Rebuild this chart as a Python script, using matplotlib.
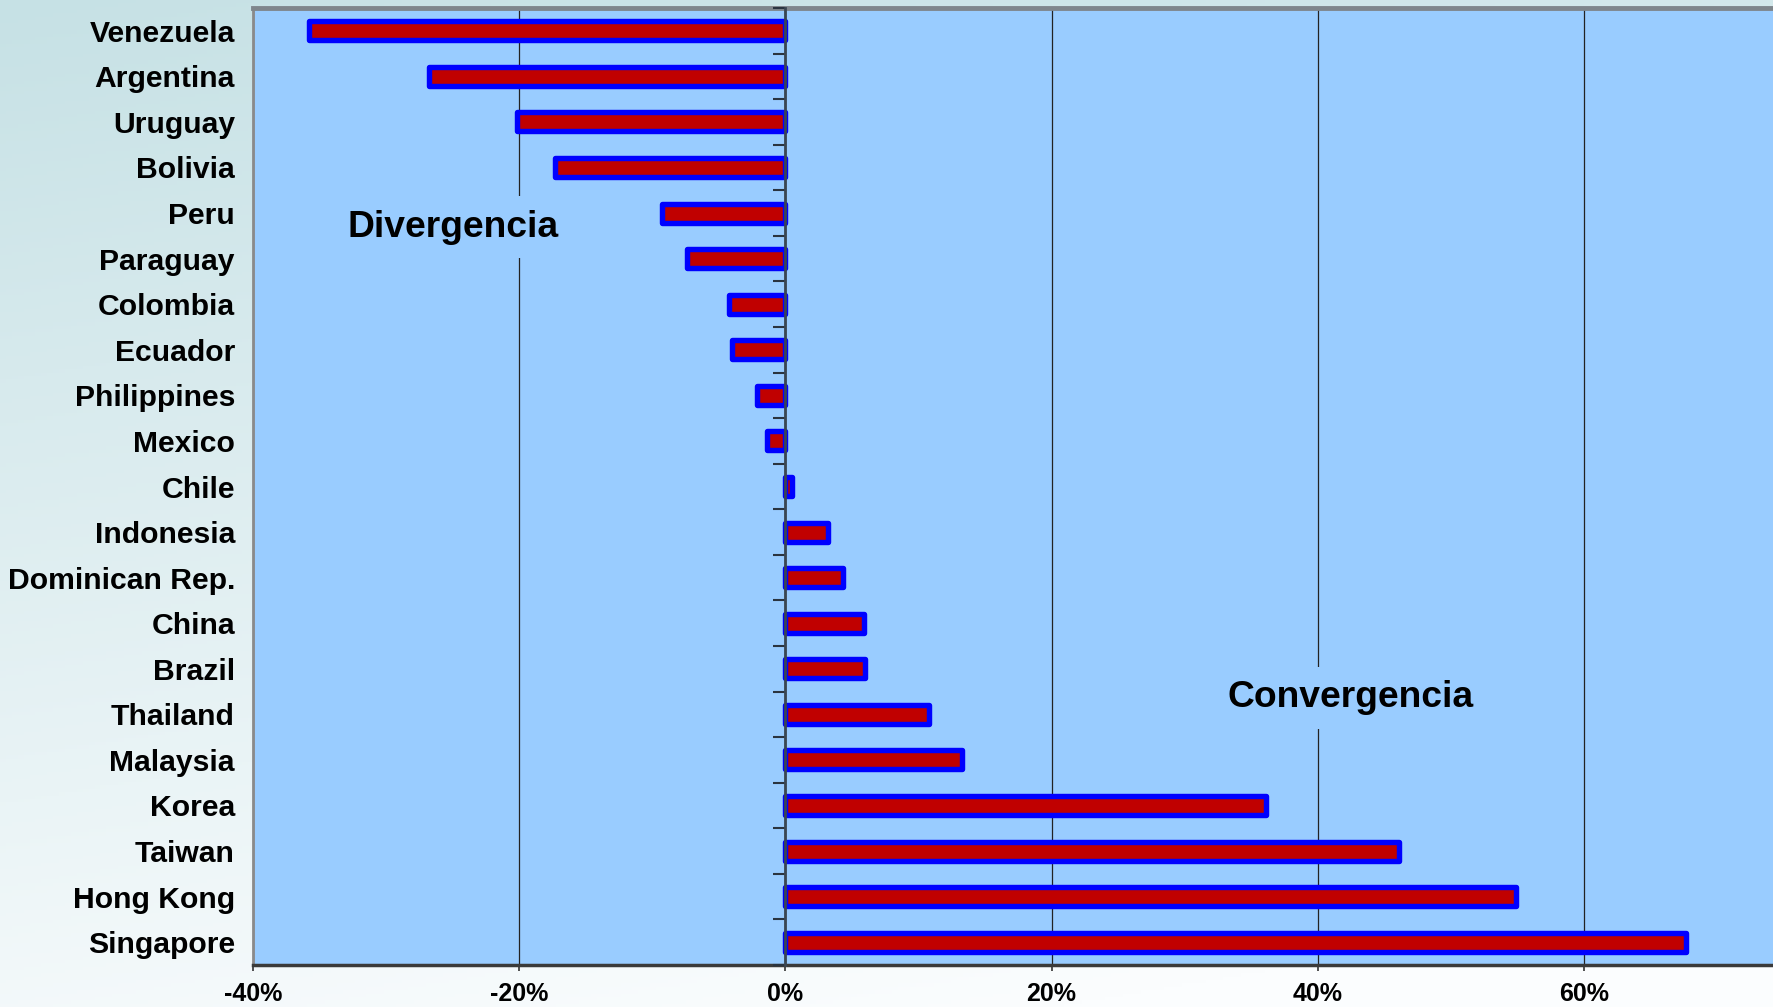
import numpy as np
import matplotlib
matplotlib.use('Agg')
import matplotlib.pyplot as plt

# data (% change, top to bottom)
countries = ['Venezuela', 'Argentina', 'Uruguay', 'Bolivia', 'Peru', 'Paraguay',
             'Colombia', 'Ecuador', 'Philippines', 'Mexico', 'Chile', 'Indonesia',
             'Dominican Rep.', 'China', 'Brazil', 'Thailand', 'Malaysia', 'Korea',
             'Taiwan', 'Hong Kong', 'Singapore']
values = [-35.8, -26.8, -20.2, -17.3, -9.3, -7.4,
          -4.2, -4.0, -2.1, -1.4, 0.5, 3.2,
          4.3, 5.9, 6.0, 10.8, 13.3, 36.1,
          46.1, 54.9, 67.7]
xticks = [-40, -20, 0, 20, 40, 60]

plt.rcParams['font.family'] = ['Liberation Sans', 'DejaVu Sans']

fig = plt.figure(figsize=(17.73, 10.07), dpi=100)

# background gradient (teal at top -> white at bottom)
bg = fig.add_axes([0, 0, 1, 1], zorder=-10)
gx, gy = np.meshgrid(np.linspace(0, 1, 300), np.linspace(0, 1, 300))
t = np.clip(gy * 0.85 + gx * 0.25, 0, 1)
c0 = np.array([198, 225, 229]) / 255.0
c1 = np.array([251, 253, 254]) / 255.0
img = c0 + (c1 - c0) * t[..., None]
bg.imshow(img, aspect='auto', extent=[0, 1, 0, 1], origin='upper')
bg.axis('off')

ax = fig.add_axes([253 / 1773, 42 / 1007, 1520 / 1773, 957 / 1007])
ax.set_facecolor('#99ccff')

y = np.arange(len(countries))
ax.barh(y, values, height=0.42, color='#c00000', edgecolor='#0000ff',
        linewidth=3.9, joinstyle='round', zorder=3)

xmin, xmax = -40, 74.2
ax.set_xlim(xmin, xmax)
ax.set_ylim(len(countries) - 0.5, -0.5)

ax.set_xticks(xticks)
ax.set_xticklabels(['%d%%' % v for v in xticks], fontsize=18, fontweight='bold')
ax.tick_params(axis='x', length=4, width=1.2, pad=8, color='#333333')
ax.grid(axis='x', color='#222222', linewidth=0.9, zorder=1)
ax.set_axisbelow(True)

ax.set_yticks(y)
ax.set_yticklabels(countries, fontsize=21.7, fontweight='bold')
ax.tick_params(axis='y', length=0, pad=13)

ax.spines['right'].set_visible(False)
ax.spines['left'].set_color('#8a8a8a')
ax.spines['left'].set_linewidth(2)
ax.spines['top'].set_color('#7f868c')
ax.spines['top'].set_linewidth(3.5)
ax.spines['bottom'].set_color('#3a3a3a')
ax.spines['bottom'].set_linewidth(2.5)

# zero axis with ticks between categories
sec = ax.secondary_yaxis((0 - xmin) / (xmax - xmin))
sec.set_yticks(np.arange(-0.5, len(countries), 1.0))
sec.set_yticklabels([])
sec.tick_params(length=9, width=1.5, color='#2a3440')
sec.spines['left'].set_color('#3a4652')
sec.spines['left'].set_linewidth(2)
sec.set_zorder(5)

box = dict(facecolor='#99ccff', edgecolor='none', pad=10)
ax.text(-25.0, 4.31, 'Divergencia', fontsize=26.8, fontweight='bold',
        ha='center', va='center', bbox=box, zorder=2)
ax.text(42.45, 14.64, 'Convergencia', fontsize=26.8, fontweight='bold',
        ha='center', va='center', bbox=box, zorder=2)

fig.savefig('out.png', dpi=100)
